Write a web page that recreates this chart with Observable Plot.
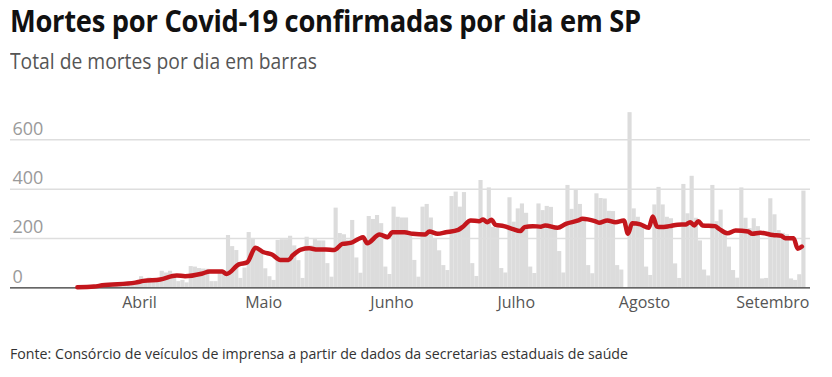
<!DOCTYPE html>
<html>
<head>
<meta charset="utf-8">
<script src="https://cdn.jsdelivr.net/npm/d3@7"></script>
<script src="https://cdn.jsdelivr.net/npm/@observablehq/plot@0.6"></script>
<style>
  html, body { margin: 0; padding: 0; background: #fff; }
  body { width: 832px; height: 377px; overflow: hidden; position: relative; font-family: "Open Sans", sans-serif; }
  .t { position: absolute; left: 10px; white-space: nowrap; line-height: 1; transform-origin: 0 0; }
  #title { top: 5px; font-size: 31px; font-weight: 700; color: #111; letter-spacing: -0.3px; }
  #subtitle { top: 51px; font-size: 21px; color: #555; }
  #chart { position: absolute; left: 0; top: 92px; }
  #footer { top: 347px; font-size: 14.5px; color: #333; }
</style>
</head>
<body>
<div id="title" class="t">Mortes por Covid-19 confirmadas por dia em SP</div>
<div id="subtitle" class="t">Total de mortes por dia em barras</div>
<div id="chart"></div>
<div id="footer" class="t">Fonte: Consórcio de veículos de imprensa a partir de dados da secretarias estaduais de saúde</div>
<script>
// ---- data ----
const firstDay = "2020-03-17";
// daily deaths, one value per day starting at firstDay
const dailyDeaths = [
  1, 2, 1, 5, 6, 7, 10, 8, 12, 10, 10, 16, 14, 15, 23,
  45, 35, 40, 30, 25, 67, 60, 67, 55, 25, 30, 20,
  86, 84, 78, 76, 75, 25, 25,
  62, 65, 212, 167, 151, 38, 80,
  224, 200, 150, 150, 77, 45, 30,
  192, 195, 195, 209, 170, 110, 38,
  205, 170, 200, 190, 190, 98, 43,
  323, 220, 215, 192, 273, 121, 59,
  190, 289, 277, 293, 260, 84, 54,
  327, 286, 283, 283, 220, 111, 43,
  327, 338, 283, 200, 150, 90, 70,
  370, 388, 327, 386, 270, 98, 46,
  435, 270, 405, 245, 240, 78, 60,
  365, 266, 320, 340, 302, 84, 58,
  340, 313, 330, 326, 240, 147, 60,
  415, 318, 397, 338, 280, 90, 57,
  381, 362, 360, 310, 309, 90, 72,
  0, 710, 320, 286, 248, 84, 50,
  336, 407, 336, 286, 280, 97, 38,
  419, 300, 452, 282, 190, 72, 48,
  415, 268, 315, 225, 165, 70, 39,
  405, 282, 240, 280, 248, 36, 38,
  361, 296, 232, 221, 215, 36, 30,
  53, 392
];
// moving-average line
const avgDates = [
  "2020-03-17","2020-03-21","2020-03-23","2020-03-31","2020-04-02","2020-04-06","2020-04-10","2020-04-12",
  "2020-04-16","2020-04-18","2020-04-21","2020-04-22","2020-04-25","2020-04-27","2020-04-29","2020-05-01",
  "2020-05-03","2020-05-05","2020-05-07","2020-05-08","2020-05-10","2020-05-12","2020-05-14","2020-05-16",
  "2020-05-18","2020-05-20","2020-05-22","2020-05-24","2020-05-25","2020-05-26","2020-05-29","2020-05-31",
  "2020-06-01","2020-06-04","2020-06-06","2020-06-09","2020-06-10","2020-06-12","2020-06-14","2020-06-17",
  "2020-06-18","2020-06-20","2020-06-22","2020-06-23","2020-06-24","2020-06-25","2020-06-26","2020-06-28",
  "2020-06-30","2020-07-02","2020-07-03","2020-07-05","2020-07-07","2020-07-08","2020-07-11","2020-07-13",
  "2020-07-16","2020-07-17","2020-07-20","2020-07-21","2020-07-23","2020-07-25","2020-07-27","2020-07-28",
  "2020-07-29","2020-07-31","2020-08-02","2020-08-03","2020-08-04","2020-08-05","2020-08-07","2020-08-09",
  "2020-08-11","2020-08-12","2020-08-13","2020-08-14","2020-08-15","2020-08-18","2020-08-19","2020-08-21",
  "2020-08-23","2020-08-26","2020-08-27","2020-08-29","2020-09-01","2020-09-03","2020-09-04","2020-09-06",
  "2020-09-07","2020-09-08"
];
const avgValues = [
  2, 5, 10, 21, 28, 34, 50, 47,
  57, 66, 66, 56, 95, 103, 162, 144,
  135, 113, 113, 131, 155, 160, 155, 155,
  153, 178, 182, 199, 205, 181, 216, 205,
  225, 225, 219, 216, 228, 219, 225, 235,
  246, 273, 270, 277, 266, 276, 255, 250,
  239, 230, 246, 250, 248, 253, 243, 259,
  273, 280, 270, 264, 273, 266, 273, 219,
  262, 257, 243, 289, 248, 246, 250, 256,
  257, 266, 253, 270, 253, 250, 239, 221,
  232, 228, 219, 223, 214, 211, 201, 201,
  158, 167
];
const yTicks = [0, 200, 400, 600];
const monthTicks = ["2020-04-01","2020-05-01","2020-06-01","2020-07-01","2020-08-01","2020-09-01"];
const monthNames = ["Abril","Maio","Junho","Julho","Agosto","Setembro"];

// ---- tables ----
const parse = d3.utcParse("%Y-%m-%d");
const start = parse(firstDay);
const bars = dailyDeaths.map((v, i) => ({
  date: d3.utcDay.offset(start, i),
  next: d3.utcDay.offset(start, i + 1),
  value: v
}));
const avg = avgDates.map((d, i) => ({date: parse(d), value: avgValues[i]}));
const end = d3.utcDay.offset(start, dailyDeaths.length);
const months = monthTicks.map(parse);

const W = 832, H = 235;
const chart = Plot.plot({
  width: W, height: H,
  marginLeft: 76.9, marginRight: W - 805.5, marginTop: 47.3, marginBottom: H - 195.3,
  x: {type: "utc", domain: [start, end]},
  y: {domain: [0, 600]},
  style: {fontFamily: "'Open Sans', sans-serif", background: "transparent", overflow: "visible"},
  marks: [
    Plot.rectY(bars, {x1: "date", x2: "next", y: "value", fill: "#dcdcdc"}),
    Plot.ruleY(yTicks.slice(1), {stroke: "#dedede", strokeWidth: 1.5, insetLeft: -66.9, insetRight: -4.5}),
    Plot.ruleY([0], {stroke: "#333", strokeWidth: 1.2, insetLeft: -66.9, insetRight: -4.5}),
    Plot.lineY(avg, {x: "date", y: "value", stroke: "#c3161c", strokeWidth: 4.5,
      strokeLinejoin: "round", strokeLinecap: "round", curve: "monotone-x"}),
    Plot.axisY(yTicks, {anchor: "left", tickSize: 0, tickPadding: 0, textAnchor: "start",
      dx: 12 - 76.9, dy: -11, fill: "#9a9a9a", fontSize: 18, label: null}),
    Plot.axisX(months, {anchor: "bottom", tickSize: 0, tickPadding: 9,
      tickFormat: (d, i) => monthNames[i], fill: "#555", fontSize: 16, label: null})
  ]
});
document.getElementById("chart").appendChild(chart);

// fit headline widths to the reference
function fit(id, w) {
  const el = document.getElementById(id);
  const r = el.getBoundingClientRect().width;
  if (r > 0) el.style.transform = `scaleX(${w / r})`;
}
fit("title", 631);
fit("subtitle", 307);
fit("footer", 618);
</script>
</body>
</html>
